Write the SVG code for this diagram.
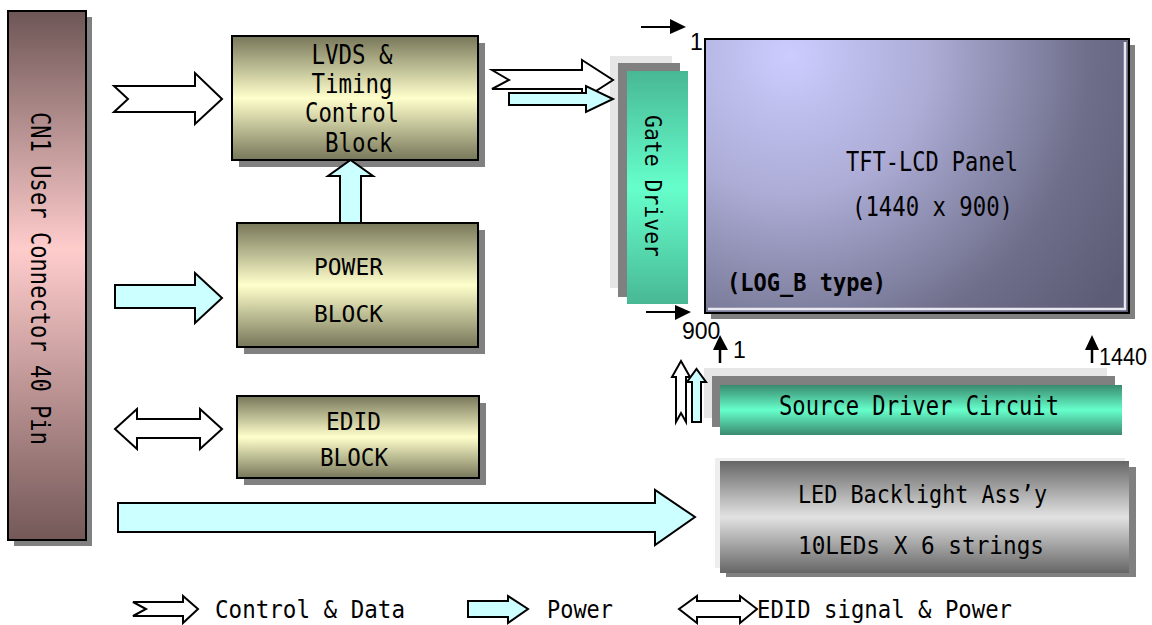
<svg xmlns="http://www.w3.org/2000/svg" width="1152" height="625" viewBox="0 0 1152 625">
<defs>
  <linearGradient id="gBox" x1="0" y1="0" x2="0" y2="1">
    <stop offset="0" stop-color="#77775a"/>
    <stop offset="0.5" stop-color="#ffffcc"/>
    <stop offset="1" stop-color="#77775a"/>
  </linearGradient>
  <linearGradient id="gCN" x1="0" y1="0" x2="0" y2="1">
    <stop offset="0" stop-color="#6e5656"/>
    <stop offset="0.45" stop-color="#ffcccc"/>
    <stop offset="1" stop-color="#745858"/>
  </linearGradient>
  <linearGradient id="gGate" x1="0" y1="0" x2="0" y2="1">
    <stop offset="0" stop-color="#48b894"/>
    <stop offset="0.5" stop-color="#66ffcc"/>
    <stop offset="1" stop-color="#48b894"/>
  </linearGradient>
  <linearGradient id="gSrc" x1="0" y1="0" x2="0" y2="1">
    <stop offset="0" stop-color="#3a8a6e"/>
    <stop offset="0.5" stop-color="#66ffcc"/>
    <stop offset="1" stop-color="#3a8a6e"/>
  </linearGradient>
  <linearGradient id="gLed" x1="0" y1="0" x2="0" y2="1">
    <stop offset="0" stop-color="#666666"/>
    <stop offset="0.5" stop-color="#e2e2e2"/>
    <stop offset="1" stop-color="#666666"/>
  </linearGradient>
  <radialGradient id="gPanel" gradientUnits="userSpaceOnUse" cx="790" cy="55" r="400">
    <stop offset="0" stop-color="#ccccff"/>
    <stop offset="0.35" stop-color="#acacd6"/>
    <stop offset="0.75" stop-color="#6e6e8a"/>
    <stop offset="1" stop-color="#5c5c76"/>
  </radialGradient>
</defs>
<style>
  .t{font-family:"DejaVu Sans Mono","Liberation Mono",monospace;fill:#000}
  .n{font-family:"Liberation Sans",Arial,sans-serif;font-size:23px;fill:#000}
  .ar{stroke:#000;stroke-width:2;stroke-linejoin:miter}
  .w{fill:#ffffff}
  .c{fill:#ccffff}
  .sh{fill:#808080}
  .lg{fill:#e6e6e6}
  .bx{stroke:#000;stroke-width:2}
</style>
<rect width="1152" height="625" fill="#ffffff"/>

<g id="cn1">
  <rect class="sh" x="14" y="17" width="78" height="529"/>
  <rect x="8" y="11" width="78" height="529" fill="url(#gCN)" class="bx"/>
  <text class="t" font-size="26" transform="translate(31,112) rotate(90)" textLength="333" lengthAdjust="spacingAndGlyphs">CN1 User Connector 40 Pin</text>
</g>

<g id="lvds">
  <rect class="sh" x="239" y="43" width="246" height="124"/>
  <rect x="232" y="36" width="246" height="124" fill="url(#gBox)" class="bx"/>
  <text class="t" font-size="27" x="311.5" y="64" textLength="81" lengthAdjust="spacingAndGlyphs">LVDS &amp;</text>
  <text class="t" font-size="27" x="311.5" y="93" textLength="81" lengthAdjust="spacingAndGlyphs">Timing</text>
  <text class="t" font-size="27" x="305" y="122" textLength="94" lengthAdjust="spacingAndGlyphs">Control</text>
  <text class="t" font-size="27" x="325" y="152" textLength="67.5" lengthAdjust="spacingAndGlyphs">Block</text>
</g>

<g id="power">
  <rect class="sh" x="244" y="230" width="241" height="124"/>
  <rect x="237" y="223" width="241" height="124" fill="url(#gBox)" class="bx"/>
  <text class="t" font-size="23" x="314" y="275" textLength="69" lengthAdjust="spacingAndGlyphs">POWER</text>
  <text class="t" font-size="23" x="314" y="322" textLength="69" lengthAdjust="spacingAndGlyphs">BLOCK</text>
</g>

<g id="edid">
  <rect class="sh" x="244" y="403" width="242" height="82"/>
  <rect x="237" y="396" width="242" height="82" fill="url(#gBox)" class="bx"/>
  <text class="t" font-size="25" x="326" y="430" textLength="55" lengthAdjust="spacingAndGlyphs">EDID</text>
  <text class="t" font-size="25" x="320" y="466" textLength="68" lengthAdjust="spacingAndGlyphs">BLOCK</text>
</g>

<g id="gate">
  <rect class="lg" x="610" y="56" width="62" height="232"/>
  <rect class="sh" x="618" y="63" width="62" height="234"/>
  <rect x="627" y="71" width="61" height="233" fill="url(#gGate)"/>
  <text class="t" font-size="23" transform="translate(645,115) rotate(90)" textLength="142" lengthAdjust="spacingAndGlyphs">Gate Driver</text>
</g>

<g id="panel">
  <rect class="sh" x="711" y="45" width="424" height="274"/>
  <rect x="705" y="39" width="424" height="274" fill="url(#gPanel)" class="bx"/>
  <polyline points="708,309 1125,309 1125,42" fill="none" stroke="#e8e8f0" stroke-width="2.5"/>
  <text class="t" font-size="26" x="846" y="171" textLength="172" lengthAdjust="spacingAndGlyphs">TFT-LCD Panel</text>
  <text class="t" font-size="26" x="852" y="216" textLength="161" lengthAdjust="spacingAndGlyphs">(1440 x 900)</text>
  <text class="t" font-size="25" font-weight="bold" x="727" y="291" textLength="159" lengthAdjust="spacingAndGlyphs">(LOG_B type)</text>
</g>

<g id="source">
  <rect class="lg" x="704" y="368" width="403" height="50"/>
  <rect class="sh" x="712" y="376" width="403" height="51"/>
  <rect x="720" y="385" width="402" height="50" fill="url(#gSrc)"/>
  <text class="t" font-size="26" x="779" y="415" textLength="280" lengthAdjust="spacingAndGlyphs">Source Driver Circuit</text>
</g>

<g id="led">
  <rect x="715" y="458" width="410" height="110" fill="#eeeeee"/>
  <rect class="sh" x="726" y="467" width="410" height="110"/>
  <rect x="720" y="461" width="409" height="112" fill="url(#gLed)"/>
  <text class="t" font-size="24" x="798" y="503" textLength="249" lengthAdjust="spacingAndGlyphs">LED Backlight Ass’y</text>
  <text class="t" font-size="24" x="798" y="554" textLength="246" lengthAdjust="spacingAndGlyphs">10LEDs X 6 strings</text>
</g>

<g id="labels">
  <text class="n" x="690" y="50">1</text>
  <text class="n" x="682" y="339">900</text>
  <text class="n" x="733" y="358">1</text>
  <text class="n" x="1099" y="365" textLength="48" lengthAdjust="spacingAndGlyphs">1440</text>
</g>

<g id="connectors">
  <polygon class="ar w" points="114,86 195,86 195,73 222,99 195,124 195,112 114,112 128,99"/>
  <polygon class="ar c" points="115,285 195,285 195,273 222,298 195,323 195,308 115,308"/>
  <polygon class="ar w" points="115,429 137,409 137,419 200,419 200,409 222,429 200,449 200,438 137,438 137,449"/>
  <polygon class="ar c" points="118,503 655,503 655,490 695,517 655,545 655,532 118,532"/>
  <polygon class="ar c" points="340,223 340,176 328,176 350.5,160 373,176 361,176 361,223"/>
  <polygon class="ar w" points="492,70 582,70 582,60 613,80 582,100 582,89 492,89 509,80"/>
  <polygon class="ar c" points="509,93 586,93 586,86 613,99 586,112 586,105 509,105"/>
  <polygon class="ar w" points="676,422 676,377 672,377 681,361 690,377 686,377 686,422 681,413"/>
  <polygon class="ar c" points="692,422 692,382 687,382 696.5,369 706,382 701,382 701,422"/>
  <line x1="641" y1="27" x2="672" y2="27" stroke="#000" stroke-width="2"/>
  <polygon points="670,19 686,27 670,34" fill="#000"/>
  <line x1="646" y1="312" x2="677" y2="312" stroke="#000" stroke-width="2"/>
  <polygon points="675,305 691,312 675,320" fill="#000"/>
  <line x1="720" y1="363" x2="720" y2="348" stroke="#000" stroke-width="2.5"/>
  <polygon points="713,350 720,335 728,350" fill="#000"/>
  <line x1="1092" y1="363" x2="1092" y2="348" stroke="#000" stroke-width="2.5"/>
  <polygon points="1085,350 1092,335 1099,350" fill="#000"/>
</g>

<g id="legend">
  <polygon class="ar w" points="133,602 183,602 183,596 198,609 183,623 183,616 133,616 146,609"/>
  <text class="t" font-size="25" x="215" y="618" textLength="190" lengthAdjust="spacingAndGlyphs">Control &amp; Data</text>
  <polygon class="ar c" points="468,601 508,601 508,596 528,609 508,623 508,617 468,617"/>
  <text class="t" font-size="25" x="547" y="618" textLength="66" lengthAdjust="spacingAndGlyphs">Power</text>
  <polygon class="ar w" points="679,609 697,596 697,601 740,601 740,596 757,609 740,623 740,617 697,617 697,623"/>
  <text class="t" font-size="25" x="757" y="618" textLength="255" lengthAdjust="spacingAndGlyphs">EDID signal &amp; Power</text>
</g>
</svg>
